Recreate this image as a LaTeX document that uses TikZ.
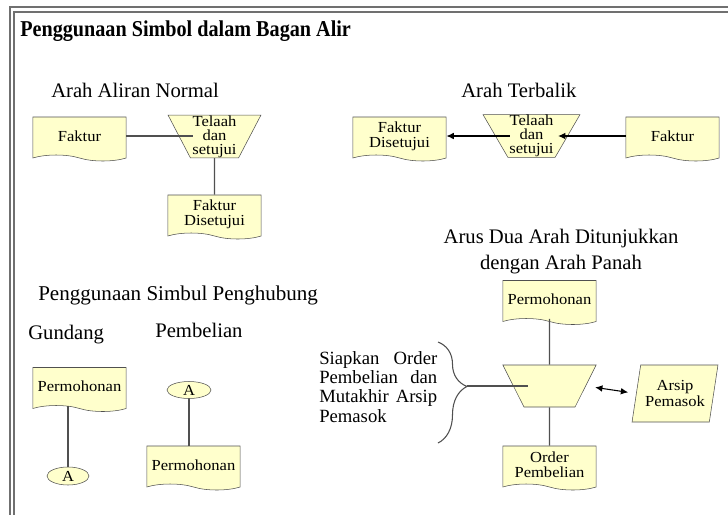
\documentclass[tikz,border=0pt]{standalone}
\usepackage{fontspec}
\setmainfont{Liberation Serif}
\newfontfamily\titlefont{Liberation Serif}[FakeStretch=0.89]
\newfontfamily\boxfont{Liberation Serif}[FakeStretch=1.08]
\usetikzlibrary{arrows.meta, positioning, calc, shapes.geometric, shapes.symbols, decorations.pathreplacing}
\definecolor{docfill}{HTML}{FFFFCC}
\definecolor{edgegray}{HTML}{505050}
\definecolor{framegray}{HTML}{707070}

\begin{document}
\begin{tikzpicture}[
    x=0.75pt, y=-0.75pt,
    doc/.style={tape, tape bend top=none, tape bend bottom=out and in, tape bend height=4.5pt,
      draw=edgegray, fill=docfill, minimum width=70pt, minimum height=33pt, inner sep=1pt,
      align=center, font=\boxfont\fontsize{11.5}{11}\selectfont},
    proc/.style={trapezium, trapezium stretches=true, trapezium left angle=64, trapezium right angle=64,
      shape border rotate=180, draw=edgegray, fill=docfill, minimum width=70pt, minimum height=32pt,
      inner sep=0pt, align=center, font=\boxfont\fontsize{11.5}{10.5}\selectfont},
    conn/.style={ellipse, draw=edgegray, fill=docfill, minimum width=31.5pt, minimum height=13.5pt,
      inner sep=0pt, font=\boxfont\fontsize{11.5}{11}\selectfont},
    store/.style={trapezium, trapezium stretches=true, trapezium left angle=74, trapezium right angle=106,
      draw=edgegray, fill=docfill, minimum width=64.5pt, minimum height=42.75pt, inner sep=0pt,
      align=center, font=\boxfont\fontsize{11.5}{12}\selectfont},
    flow/.style={draw=edgegray, line width=0.8pt},
    arr/.style={draw=black, line width=0.8pt, -{Latex[length=5.5pt,width=5pt]}},
    head/.style={anchor=base west, inner sep=0pt, font=\fontsize{15.5}{19.5}\selectfont},
    note/.style={text width=88.5pt, align=left, inner sep=0pt, font=\fontsize{14}{14.5}\selectfont}]
  \useasboundingbox (0,0) rectangle (728,515);
  \draw[framegray, line width=1.1pt] (728,7) -- (10,7) -- (10,515);
  \draw[framegray, line width=1.1pt] (728,12) -- (14,12) -- (14,515);
  \node[anchor=base west, inner sep=0pt, font=\titlefont\fontsize{17}{20}\selectfont\bfseries] (judul) at (20,36) {Penggunaan Simbol dalam Bagan Alir};

  \node[head] (hNormal) at (51,97) {Arah Aliran Normal};
  \node[doc] (fakA) at (79.5,136) {Faktur};
  \node[proc] (telA) at (214.5,136.5) {Telaah\\dan\\setujui};
  \node[doc] (fdsA) at (214.5,214) {Faktur\\Disetujui};
  \draw[flow] (fakA.east) -- (fakA.east -| telA.north west);
  \draw[flow] (telA.south) -- (fdsA.north);

  \node[head] (hBalik) at (461,97) {Arah Terbalik};
  \node[doc] (fdsB) at (399.5,136) {Faktur\\Disetujui};
  \node[proc, trapezium left angle=61, trapezium right angle=61, minimum width=72.75pt] (telB) at (531.5,136) {Telaah\\dan\\setujui};
  \node[doc] (fakB) at (672.5,136) {Faktur};
  \draw[arr, shorten >=3.75pt] (fakB.west) -- (fakB.west -| telB.north east);
  \draw[arr] (fdsB.east -| telB.north west) -- (fdsB.east);

  \node[head, font=\fontsize{15.8}{19.5}\selectfont] (hHubung) at (38,300) {Penggunaan Simbul Penghubung};
  \node[head] (hGudang) at (28,339) {Gundang};
  \node[head] (hBeli) at (155,337) {Pembelian};
  \node[doc] (perG) at (79.5,386.5) {Permohonan};
  \node[conn] (aG) at (68,476) {A};
  \node[conn, minimum width=33pt, minimum height=12.75pt] (aP) at (189,390) {A};
  \node[doc] (perP) at (193.5,465) {Permohonan};
  \draw[flow] (aG.north |- perG.south) -- (aG.north);
  \draw[flow] (aP.south) -- (aP.south |- perP.north);

  \node[anchor=north, align=center, inner sep=0pt, font=\fontsize{15.5}{19.5}\selectfont] (hDua) at (561,229) {Arus Dua Arah Ditunjukkan\\dengan Arah Panah};
  \node[doc] (perD) at (549.5,299.5) {Permohonan};
  \node[proc, minimum height=31.5pt] (trD) at (549.5,386) {\phantom{A}};
  \node[doc] (ordD) at (549.5,465) {Order\\Pembelian};
  \node[store] (arsip) at (675,393.5) {Arsip\\Pemasok};
  \draw[flow] (perD.south) -- (trD.north);
  \draw[flow] (trD.south) -- (ordD.north);
  \draw[arr, {Latex[length=5.5pt,width=5pt]}-{Latex[length=5.5pt,width=5pt]}, shorten <=7pt, shorten >=6pt] (trD.east) -- (arsip.west);
  \node[note, anchor=north west] (siap) at (319,351) {Siapkan\hfill Order\\Pembelian\hfill dan\\Mutakhir\hfill Arsip\\Pemasok};
  \coordinate (brTop) at (438,342);
  \coordinate (brBot) at (438,443);
  \coordinate (brTip) at (467,386);
  \draw[edgegray, line width=0.8pt, decorate, decoration={brace, amplitude=21.75pt, aspect=0.44}] (brTop) -- (brBot);
  \draw[flow] (brTip) -- (brTip -| trD.north west);
\end{tikzpicture}
\end{document}
